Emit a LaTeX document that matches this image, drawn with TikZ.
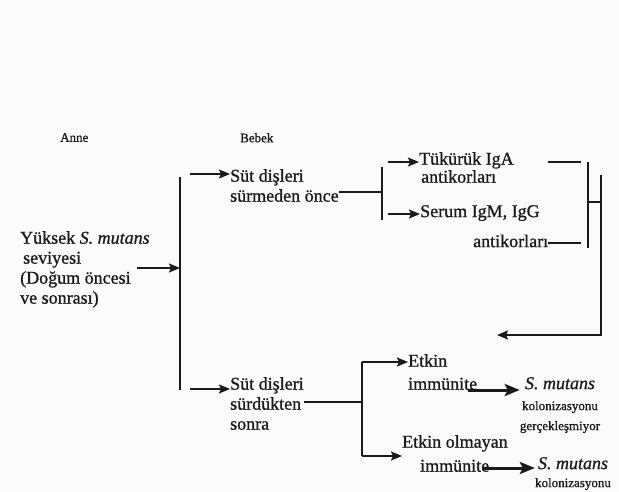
\documentclass[tikz,border=0pt]{standalone}
\usepackage{fontspec}
\setmainfont{Liberation Serif}[FakeBold=0.9]
\usetikzlibrary{arrows.meta}
\definecolor{ink}{HTML}{1A1A1A}
\definecolor{paper}{HTML}{FBFBFB}
\begin{document}
\begin{tikzpicture}[x=1pt,y=-1pt,
  txt/.style={inner sep=0pt, anchor=north west, align=left, text=ink,
    font=\fontsize{18}{20}\selectfont},
  smalltxt/.style={inner sep=0pt, anchor=north west, text=ink,
    font=\fontsize{13}{15}\selectfont},
  ln/.style={line width=1.7pt, draw=ink},
  arr/.style={ln, -{Stealth[length=11pt,width=9pt,inset=2pt]}},
  bigarr/.style={line width=3pt, draw=ink, -{Stealth[length=15pt,width=12pt,inset=3pt]}}]
\fill[paper] (0,0) rectangle (619,492);
\useasboundingbox (0,0) rectangle (619,492);
% headings
\node[smalltxt] (anne) at (60,133) {Anne};
\node[smalltxt] (bebek) at (240,133) {Bebek};
% texts
\node[txt] (mother) at (20,231) {Yüksek \textit{S. mutans}\\\hspace*{3pt}seviyesi\\(Doğum öncesi\\ve sonrası)};
\node[txt] (before) at (230,169) {Süt dişleri\\sürmeden önce};
\node[txt, font=\fontsize{18}{18}\selectfont] (iga) at (419,152) {Tükürük IgA\\\hspace*{2pt}antikorları};
\node[txt] (serum) at (420,205) {Serum IgM, IgG\\[10pt]\hspace*{53pt}antikorları};
\node[txt] (after) at (230,377) {Süt dişleri\\sürdükten\\sonra};
\node[txt] (etkin) at (408,354) {Etkin\\[3pt]immünite};
\node[txt, align=center, anchor=north] (res1) at (560,377) {\textit{S. mutans}\\[1pt]{\fontsize{13}{15}\selectfont kolonizasyonu}\\{\fontsize{13}{15}\selectfont gerçekleşmiyor}};
\node[txt] (etkinol) at (402,435) {Etkin olmayan\\[4pt]\hspace*{18pt}immünite};
\node[txt, align=center, anchor=north] (res2) at (573,457) {\textit{S. mutans}\\[-2pt]{\fontsize{13}{15}\selectfont kolonizasyonu}};
% coordinates
\coordinate (vtop) at (180,177);
\coordinate (vbot) at (180,390);
\coordinate (ma) at (137,268);
\coordinate (mb) at (180,268);
\coordinate (b0) at (190,174);
\coordinate (a0) at (190,389);
\coordinate (bb) at (382,192);
\coordinate (bbt) at (382,167);
\coordinate (bbb) at (382,220);
\coordinate (g0) at (388,162);
\coordinate (s0) at (388,214);
\coordinate (gi) at (548,162);
\coordinate (go) at (581,162);
\coordinate (si) at (548,243);
\coordinate (so) at (581,243);
\coordinate (rt) at (588,162);
\coordinate (rb) at (588,248);
\coordinate (rm) at (588,202);
\coordinate (rs) at (601,202);
\coordinate (rtop) at (601,175);
\coordinate (rcorner) at (601,335);
\coordinate (rend) at (497,335);
\coordinate (ab) at (362,402);
\coordinate (abt) at (362,362);
\coordinate (abb) at (362,456);
\coordinate (e1) at (468,390);
\coordinate (e2) at (482,468);
% connectors
\draw[ln] (vtop) -- (vbot);
\draw[arr] (ma) -- (mb);
\draw[arr] (b0) -- (b0 -| before.west);
\draw[arr] (a0) -- (a0 -| after.west);
\draw[ln] (before.east |- bb) -- (bb);
\draw[ln] (bbt) -- (bbb);
\draw[arr] (g0) -- (g0 -| iga.west);
\draw[arr] (s0) -- (s0 -| serum.west);
\draw[ln] (gi) -- (go);
\draw[ln] (si) -- (so);
\draw[ln] (rt) -- (rb);
\draw[ln] (rm) -- (rs);
\draw[arr] (rtop) -- (rcorner) -- (rend);
\draw[ln] (after.east |- ab) -- (ab);
\draw[ln] (abt) -- (abb);
\draw[arr] (abt) -- (abt -| etkin.west);
\draw[arr] (abb) -- (abb -| etkinol.west);
\draw[bigarr] (e1) -- (e1 -| res1.west);
\draw[bigarr] (e2) -- (e2 -| res2.west);
\end{tikzpicture}
\end{document}
